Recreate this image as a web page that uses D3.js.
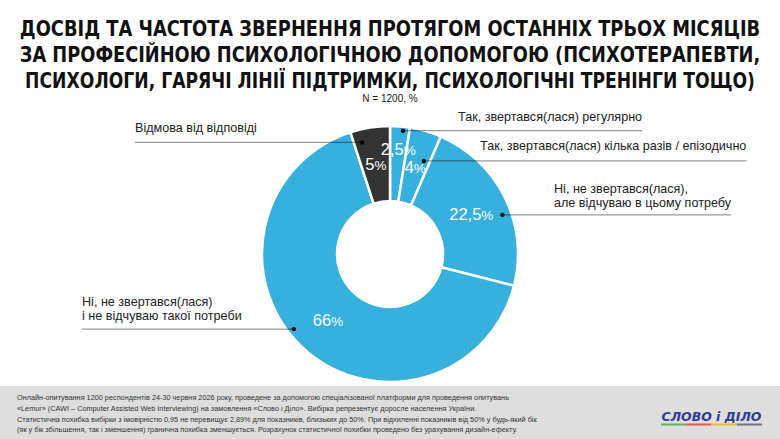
<!DOCTYPE html>
<html>
<head>
<meta charset="utf-8">
<script src="https://cdn.jsdelivr.net/npm/d3@7/dist/d3.min.js"></script>
<style>
  html, body { margin: 0; padding: 0; background: #fff; }
  svg { display: block; }
</style>
</head>
<body>
<svg id="chart" width="780" height="439"></svg>
<script>
// ---- Data ----
const titleLines = [
  "ДОСВІД ТА ЧАСТОТА ЗВЕРНЕННЯ ПРОТЯГОМ ОСТАННІХ ТРЬОХ МІСЯЦІВ",
  "ЗА ПРОФЕСІЙНОЮ ПСИХОЛОГІЧНОЮ ДОПОМОГОЮ (ПСИХОТЕРАПЕВТИ,",
  "ПСИХОЛОГИ, ГАРЯЧІ ЛІНІЇ ПІДТРИМКИ, ПСИХОЛОГІЧНІ ТРЕНІНГИ ТОЩО)"
];
const subtitle = "N = 1200, %";
const categories = [
  ["Так, звертався(лася) регулярно"],
  ["Так, звертався(лася) кілька разів / епізодично"],
  ["Ні, не звертався(лася),", "але відчуваю в цьому потребу"],
  ["Ні, не звертався(лася)", "і не відчуваю такої потреби"],
  ["Відмова від відповіді"]
];
const values = [2.5, 4, 22.5, 66, 5];
const valueLabels = ["2,5", "4", "22,5", "66", "5"];
const footnoteLines = [
  "Онлайн-опитування 1200 респондентів 24-30 червня 2026 року, проведене за допомогою спеціалізованої платформи для проведення опитувань",
  "«Lemur» (CAWI – Computer Assisted Web Interviewing) на замовлення «Слово і Діло». Вибірка репрезентує доросле населення України.",
  "Статистична похибка вибірки з імовірністю 0,95 не перевищує 2,89% для показників, близьких до 50%. При відхиленні показників від 50% у будь-який бік",
  "(як у бік збільшення, так і зменшення) гранична похибка зменшується. Розрахунок статистичної похибки проведено без урахування дизайн-ефекту."
];

// ---- Layout / style ----
const W = 780, H = 439;
const cx = 390, cy = 254, rOuter = 128, rInner = 53;
const sliceColors = ["#37b0de", "#37b0de", "#37b0de", "#37b0de", "#333333"];
const FONT = "'Liberation Sans', Arial, Helvetica, sans-serif";
// callouts: dot placement (angle in deg from top, radius), label anchor
const callouts = [
  { a: 6,   r: 124, tx: 458, ty: 121, side: "right" },
  { a: 20,  r: 99,  tx: 480, ty: 150, side: "right" },
  { a: 70.8,r: 119, tx: 554, ty: 193, side: "right" },
  { a: 232, r: 122, tx: 82,  ty: 306, side: "left" },
  { a: 346, r: 115, tx: 135, ty: 132, side: "left" }
];

const svg = d3.select("#chart");

// Title (fit each line to its width with a horizontal scale)
const title = svg.append("g");
const titleBase = [36, 62, 88];
const titleLen = [741, 741, 730];
titleLines.forEach((t, i) => {
  const txt = title.append("text")
    .attr("x", 0).attr("y", 0)
    .attr("text-anchor", "middle")
    .attr("font-family", "'Liberation Sans Narrow', 'Arial Narrow', 'DejaVu Sans Condensed', 'Liberation Sans', Arial, sans-serif")
    .attr("font-weight", "bold")
    .attr("font-size", 22)
    .attr("fill", "#111")
    .text(t);
  const w = txt.node().getComputedTextLength();
  const sx = titleLen[i] / w;
  txt.attr("transform", `translate(${W / 2},${titleBase[i]}) scale(${sx},1)`);
});
svg.append("text")
  .attr("x", W / 2).attr("y", 102)
  .attr("text-anchor", "middle")
  .attr("font-family", FONT)
  .attr("font-size", 10)
  .attr("fill", "#222")
  .text(subtitle);

// Footer band
svg.append("rect").attr("x", 0).attr("y", 386).attr("width", W).attr("height", H - 386).attr("fill", "#dedede");
footnoteLines.forEach((t, i) => {
  svg.append("text")
    .attr("x", 17).attr("y", 400 + i * 10.8)
    .attr("font-family", FONT)
    .attr("font-size", 7.3)
    .attr("fill", "#333")
    .text(t);
});

// Logo
const logo = svg.append("g");
const logoText = logo.append("text")
  .attr("x", 0).attr("y", 0)
  .attr("text-anchor", "middle")
  .attr("font-family", "'DejaVu Sans', 'Liberation Sans', Arial, sans-serif")
  .attr("font-weight", "bold")
  .attr("font-style", "italic")
  .attr("font-size", 13)
  .attr("fill", "#2e3d91")
  .text("СЛОВО і ДІЛО");
const lw = logoText.node().getComputedTextLength();
logoText.attr("transform", `translate(711.5,421) scale(${100 / lw},1)`);
const logoBar = ["#5cb85c", "#e8574f", "#f4b731", "#6f7785"];
const lb = d3.scaleBand().domain(d3.range(logoBar.length)).range([661, 762]);
logo.selectAll("rect").data(logoBar).join("rect")
  .attr("x", (d, i) => lb(i)).attr("y", 423.5)
  .attr("width", lb.bandwidth()).attr("height", 2)
  .attr("fill", d => d);

// Donut
const pie = d3.pie().sort(null).value(d => d);
const arcs = pie(values);
const arc = d3.arc().innerRadius(rInner).outerRadius(rOuter);
const g = svg.append("g").attr("transform", `translate(${cx},${cy})`);
g.selectAll("path").data(arcs).join("path")
  .attr("d", arc)
  .attr("fill", (d, i) => sliceColors[i])
  .attr("stroke", "#fff")
  .attr("stroke-width", 2.5)
  .attr("stroke-linejoin", "miter");

// Value labels
g.selectAll("text.val").data(arcs).join("text")
  .attr("class", "val")
  .attr("transform", d => {
    let [x, y] = arc.centroid(d);
    if (d.value < 3) { // small slice: push label outward
      const k = 1.16; x *= k; y *= k;
    }
    return `translate(${x},${y})`;
  })
  .attr("text-anchor", "middle")
  .attr("dy", "0.36em")
  .attr("font-family", FONT)
  .attr("fill", "#fff")
  .each(function (d, i) {
    const t = d3.select(this);
    t.append("tspan").attr("font-size", 16.5).text(valueLabels[i]);
    t.append("tspan").attr("font-size", 13.5).text("%");
  });

// Callouts
const ann = svg.append("g");
callouts.forEach((c, i) => {
  const rad = c.a * Math.PI / 180;
  const dx = cx + c.r * Math.sin(rad);
  const dy = cy - c.r * Math.cos(rad);
  const lines = categories[i];
  const texts = lines.map((l, j) => ann.append("text")
    .attr("x", c.tx).attr("y", c.ty + j * 14)
    .attr("font-family", FONT)
    .attr("font-size", 12.6)
    .attr("fill", "#222")
    .text(l));
  const maxW = d3.max(texts, t => t.node().getComputedTextLength());
  const ly = dy;
  if (c.side === "right") {
    ann.append("line").attr("x1", dx).attr("y1", ly).attr("x2", c.tx + maxW).attr("y2", ly)
      .attr("stroke", "#000").attr("stroke-opacity", 0.4).attr("stroke-width", 1.3);
  } else {
    ann.append("line").attr("x1", c.tx).attr("y1", ly).attr("x2", dx).attr("y2", ly)
      .attr("stroke", "#000").attr("stroke-opacity", 0.4).attr("stroke-width", 1.3);
  }
  ann.append("circle").attr("cx", dx).attr("cy", dy).attr("r", 2.2).attr("fill", "#000");
});
</script>
</body>
</html>
